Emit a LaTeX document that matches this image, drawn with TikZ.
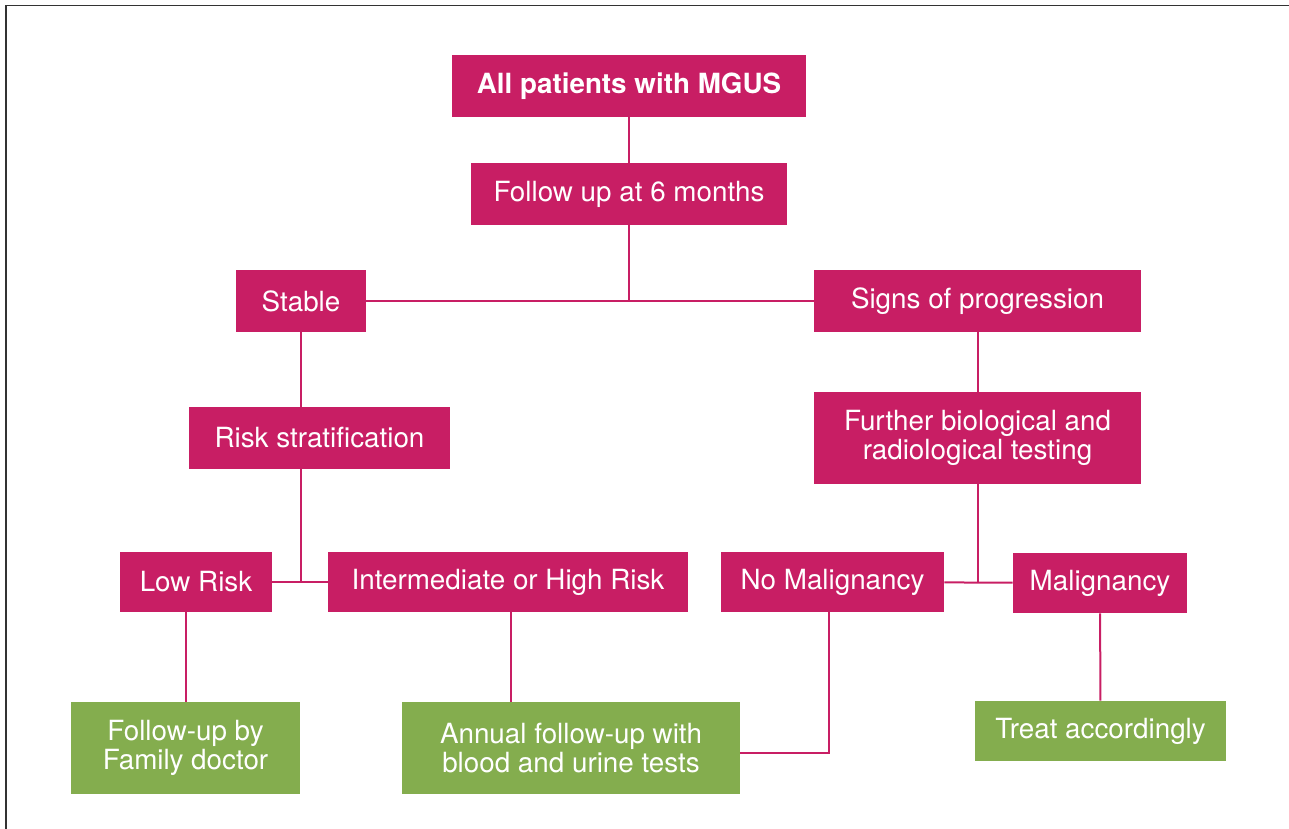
\documentclass[tikz,border=0pt]{standalone}
\usepackage{fontspec}
\setmainfont{TeX Gyre Heros}
\usepackage{tikz}
\usepackage{xcolor}
\definecolor{mgpink}{RGB}{200,30,100}
\definecolor{mggreen}{RGB}{132,173,78}
\tikzstyle{step box} = [rectangle, fill=mgpink, text=white, inner sep=0pt, minimum height=31pt, align=center, font=\fontsize{13.9}{14.5}\selectfont]
\tikzstyle{end box} = [rectangle, fill=mggreen, text=white, inner sep=0pt, align=center, font=\fontsize{13.9}{14.5}\selectfont]
\tikzstyle{link} = [draw=mgpink, line width=1pt]

\begin{document}
\begin{tikzpicture}[x=0.5pt,y=-0.5pt]
  \useasboundingbox (0,0) rectangle (1289,829);
  \draw[line width=0.75pt, black!80] (1289,5.5) -- (6,5.5) -- (6,829);

  \node[step box, minimum width=177pt, font=\fontsize{13.9}{14.5}\selectfont\bfseries] (MGUS) at (629,86) {All patients with MGUS};
  \node[step box, minimum width=158pt] (Follow) at (629,194) {Follow up at 6 months};
  \node[step box, minimum width=65pt] (Stable) at (301,301) {Stable};
  \node[step box, minimum width=163.5pt] (Signs) at (977.5,301) {Signs of progression};
  \node[step box, minimum width=130.5pt] (Risk) at (319.5,438) {Risk stratification};
  \node[step box, minimum width=163.5pt, minimum height=46pt] (Further) at (977.5,438) {Further biological and\\radiological testing};
  \node[step box, minimum width=76pt, minimum height=30pt] (Low) at (196,582) {Low Risk};
  \node[step box, minimum width=180pt, minimum height=30pt] (Inter) at (508,582) {Intermediate or High Risk};
  \node[step box, minimum width=111.5pt, minimum height=30pt] (NoMalig) at (832.5,582) {No Malignancy};
  \node[step box, minimum width=87pt, minimum height=30pt] (Malig) at (1100,583) {Malignancy};
  \node[end box, minimum width=114.5pt, minimum height=46pt] (Family) at (185.5,748) {Follow-up by\\Family doctor};
  \node[end box, minimum width=169pt, minimum height=46pt] (Annual) at (571,748) {Annual follow-up with\\blood and urine tests};
  \node[end box, minimum width=125.5pt, minimum height=30pt] (Treat) at (1100.5,731) {Treat accordingly};

  \path[link] (MGUS) -- (Follow);
  \path[link] (Follow.south) -- (Follow.south |- Stable);
  \path[link] (Stable) -- (Signs);
  \path[link] (Stable.south) -- (Stable.south |- Risk.north);
  \path[link] (Stable.south |- Risk.south) -- (Stable.south |- Low);
  \path[link] (Low) -- (Inter);
  \path[link] (Signs) -- (Further);
  \path[link] (Further.south) -- (Further.south |- Malig);
  \path[link] (NoMalig) -- (Malig);
  \path[link] (Family.north |- Low.south) -- (Family.north);
  \path[link] ([xshift=1.5pt]Inter.south) -- ([xshift=1.5pt]Inter.south |- Annual.north);
  \path[link] ([xshift=-2pt]NoMalig.south) |- ([yshift=-2.5pt]Annual.east);
  \path[link] (Malig) -- (Treat);
\end{tikzpicture}
\end{document}
